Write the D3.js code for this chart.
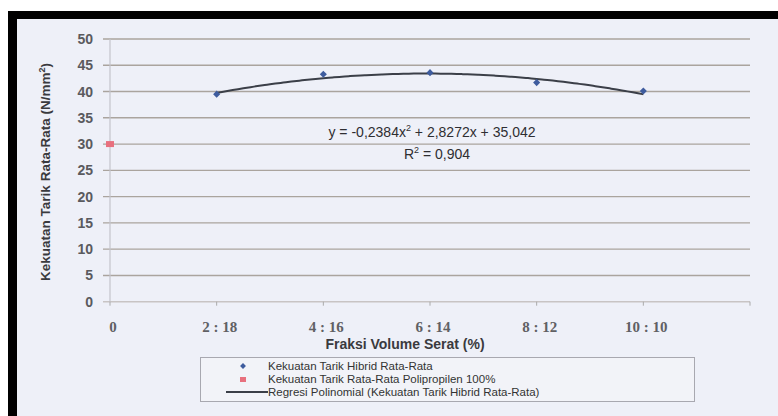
<!DOCTYPE html>
<html>
<head>
<meta charset="utf-8">
<script src="https://cdn.jsdelivr.net/npm/d3@7"></script>
<style>
  body { margin: 0; background: #fff; }
  svg { display: block; }
</style>
</head>
<body>
<div id="chart"></div>
<script>
// data
const xValues = [2, 4, 6, 8, 10];
const tickLabels = ['0', '2 : 18', '4 : 16', '6 : 14', '8 : 12', '10 : 10'];
const hybridValues = [39.5, 43.3, 43.6, 41.7, 40.1];
const ppValue = [30];
const ppX = [0];
const coef = [35.042, 2.8272, -0.2384];
const yTicks = [0, 5, 10, 15, 20, 25, 30, 35, 40, 45, 50];
const legendLabels = [
  'Kekuatan Tarik Hibrid Rata-Rata',
  'Kekuatan Tarik Rata-Rata Polipropilen 100%',
  'Regresi Polinomial (Kekuatan Tarik Hibrid Rata-Rata)'
];

const W = 778, H = 416;
const svg = d3.select('#chart').append('svg').attr('width', W).attr('height', H);

// frame & background
svg.append('rect').attr('x', 8).attr('y', 11).attr('width', W - 8).attr('height', H - 11).attr('fill', '#000');
svg.append('rect').attr('x', 17).attr('y', 19).attr('width', W - 17).attr('height', H - 19).attr('fill', '#eef0f8');

const x = d3.scaleLinear().domain([0, 12]).range([110, 750]);
const y = d3.scaleLinear().domain([0, 50]).range([301.7, 39]);

// gridlines
svg.append('g').selectAll('line').data(yTicks).join('line')
  .attr('x1', 103).attr('x2', 750)
  .attr('y1', d => y(d)).attr('y2', d => y(d))
  .attr('stroke', d => d === 0 ? '#c8c4c4' : '#aaa49e')
  .attr('stroke-width', 1.4);

// y axis line
svg.append('line').attr('x1', x(0)).attr('x2', x(0)).attr('y1', y(50)).attr('y2', y(0))
  .attr('stroke', '#c4c4cc').attr('stroke-width', 1.2);

// x ticks
svg.append('g').selectAll('line').data(d3.range(0, 13, 2)).join('line')
  .attr('x1', d => x(d)).attr('x2', d => x(d))
  .attr('y1', y(0)).attr('y2', y(0) + 4)
  .attr('stroke', '#aaa').attr('stroke-width', 1);

// y tick labels
svg.append('g').selectAll('text').data(yTicks).join('text')
  .attr('x', 93).attr('y', d => y(d) + 5)
  .attr('text-anchor', 'end')
  .attr('font-family', 'Liberation Sans, Arial, sans-serif')
  .attr('font-weight', 'bold').attr('font-size', 14)
  .attr('fill', '#5a5a5e')
  .text(d => d);

// x tick labels
svg.append('g').selectAll('text').data(tickLabels).join('text')
  .attr('x', (d, i) => x(i * 2) + 3).attr('y', 332)
  .attr('text-anchor', 'middle')
  .attr('font-family', 'Liberation Serif, Times New Roman, serif')
  .attr('font-weight', 'bold').attr('font-size', 15)
  .attr('fill', '#606064')
  .text(d => d);

// axis titles
svg.append('text').attr('x', 405).attr('y', 349)
  .attr('text-anchor', 'middle')
  .attr('font-family', 'Liberation Sans, Arial, sans-serif')
  .attr('font-weight', 'bold').attr('font-size', 14)
  .attr('fill', '#3a3a3e')
  .text('Fraksi Volume Serat (%)');

const yt = svg.append('text')
  .attr('transform', 'translate(50,172) rotate(-90)')
  .attr('text-anchor', 'middle')
  .attr('font-family', 'Liberation Sans Narrow, Liberation Sans, Arial, sans-serif')
  .attr('font-weight', 'bold').attr('font-size', 13.5)
  .attr('fill', '#3a3a3e');
yt.append('tspan').text('Kekuatan Tarik Rata-Rata (N/mm');
yt.append('tspan').attr('dy', -5).attr('font-size', 9).text('2');
yt.append('tspan').attr('dy', 5).text(')');

// regression curve
const curveX = d3.range(2, 10.01, 0.1);
const poly = v => coef[0] + coef[1] * v + coef[2] * v * v;
svg.append('path')
  .datum(curveX)
  .attr('fill', 'none')
  .attr('stroke', '#3b3f48')
  .attr('stroke-width', 2)
  .attr('d', d3.line().x(d => x(d)).y(d => y(poly(d))).curve(d3.curveBasis));

// hybrid points
svg.append('g').selectAll('path').data(xValues).join('path')
  .attr('transform', (d, i) => `translate(${x(d)},${y(hybridValues[i])})`)
  .attr('d', d3.symbol(d3.symbolDiamond2, 32))
  .attr('fill', '#3e5c9e');

// PP point
svg.append('g').selectAll('rect').data(ppX).join('rect')
  .attr('x', d => x(d) - 4).attr('y', (d, i) => y(ppValue[i]) - 3)
  .attr('width', 8).attr('height', 6)
  .attr('fill', '#e8707e');

// equation
const eq = svg.append('text').attr('x', 432).attr('y', 137)
  .attr('text-anchor', 'middle')
  .attr('font-family', 'Liberation Sans, Arial, sans-serif')
  .attr('font-size', 14).attr('fill', '#2e2e32');
eq.append('tspan').text('y = -0,2384x');
eq.append('tspan').attr('dy', -6).attr('font-size', 9).text('2');
eq.append('tspan').attr('dy', 6).text(' + 2,8272x + 35,042');

const r2 = svg.append('text').attr('x', 437).attr('y', 159)
  .attr('text-anchor', 'middle')
  .attr('font-family', 'Liberation Sans, Arial, sans-serif')
  .attr('font-size', 14).attr('fill', '#2e2e32');
r2.append('tspan').text('R');
r2.append('tspan').attr('dy', -6).attr('font-size', 9).text('2');
r2.append('tspan').attr('dy', 6).text(' = 0,904');

// legend
const lg = svg.append('g');
lg.append('rect').attr('x', 200.5).attr('y', 357.5).attr('width', 494).attr('height', 44)
  .attr('fill', '#f2f3f8').attr('stroke', '#a8a8b0').attr('stroke-width', 1);
lg.selectAll('text').data(legendLabels).join('text')
  .attr('x', 268).attr('y', (d, i) => 370 + i * 13)
  .attr('font-family', 'Liberation Sans, Arial, sans-serif')
  .attr('font-size', 11.5).attr('fill', '#333')
  .text(d => d);
lg.append('path').attr('transform', 'translate(243,366)')
  .attr('d', d3.symbol(d3.symbolDiamond2, 22)).attr('fill', '#3e5c9e');
lg.append('rect').attr('x', 240).attr('y', 377).attr('width', 6).attr('height', 5).attr('fill', '#e8707e');
lg.append('line').attr('x1', 226).attr('x2', 268).attr('y1', 392).attr('y2', 392)
  .attr('stroke', '#3b3f48').attr('stroke-width', 2);
</script>
</body>
</html>
